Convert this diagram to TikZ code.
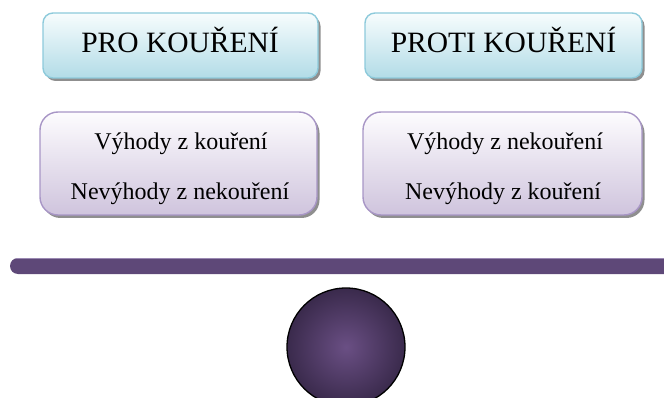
\documentclass[tikz,border=0pt]{standalone}
\usepackage{fontspec}
\setmainfont{Liberation Serif}
\usetikzlibrary{shadows}
\definecolor{bluetop}{HTML}{F7FCFD}
\definecolor{bluebot}{HTML}{B2DCE7}
\definecolor{blueline}{HTML}{8DCADB}
\definecolor{purtop}{HTML}{FDFCFE}
\definecolor{purbot}{HTML}{CFC4DD}
\definecolor{purline}{HTML}{A896C6}
\definecolor{barcol}{HTML}{5E4878}
\definecolor{barline}{HTML}{9A88B2}
\definecolor{ballin}{HTML}{6A4F84}
\definecolor{ballout}{HTML}{3A2A4C}
\tikzset{
  headbox/.style={draw=blueline, line width=1.4pt, rounded corners=10pt,
    top color=bluetop, bottom color=bluebot,
    minimum width=275pt, minimum height=65pt, inner sep=0pt,
    drop shadow={shadow xshift=2.5pt, shadow yshift=-3pt, fill=black!55, opacity=0.8}},
  listbox/.style={draw=purline, line width=1.4pt, rounded corners=18pt,
    top color=purtop, bottom color=purbot,
    minimum width=277pt, minimum height=103pt, inner sep=0pt,
    drop shadow={shadow xshift=2.5pt, shadow yshift=-3pt, fill=black!55, opacity=0.8}},
  headtxt/.style={anchor=base, inner sep=0pt, font=\fontsize{29.5}{34}\selectfont},
  listtxt/.style={anchor=base, inner sep=0pt, font=\fontsize{24}{28}\selectfont},
}
\begin{document}
\begin{tikzpicture}[x=1pt,y=-1pt]
\useasboundingbox (0,0) rectangle (664,398);
% header boxes
\node[headbox] (h1) at (180.5,45.5) {};
\node[headbox, minimum width=277pt] (h2) at (503.5,45.5) {};
\node[headtxt] (h1t) at (180,53) {PRO KOUŘENÍ};
\node[headtxt] (h2t) at (503.5,53) {PROTI KOUŘENÍ};
% list boxes
\node[listbox] (p1) at (178.5,163.5) {};
\node[listbox, minimum width=279pt] (p2) at (502.5,163.5) {};
\node[listtxt] (p1a) at (181,150) {Výhody z kouření};
\node[listtxt] (p1b) at (180,200) {Nevýhody z nekouření};
\node[listtxt] (p2a) at (505,150) {Výhody z nekouření};
\node[listtxt] (p2b) at (503,200) {Nevýhody z kouření};
% beam
\begin{scope}
\clip (0,0) rectangle (664,398);
\fill[barcol, rounded corners=8pt] (10,258) rectangle (690,274);
\draw[barline, line width=0.6pt] (16,258.3) -- (664,258.3);
% fulcrum ball
\shade[inner color=ballin, outer color=ballout] (346,347) circle (59);
\draw[black, line width=1.3pt] (346,347) circle (59);
\end{scope}
\end{tikzpicture}
\end{document}
